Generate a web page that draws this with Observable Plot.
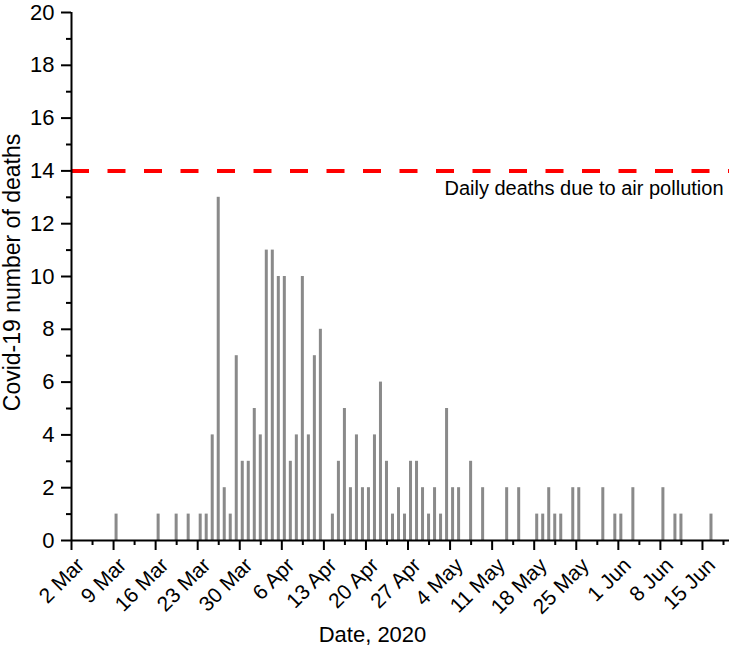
<!DOCTYPE html>
<html>
<head>
<meta charset="utf-8">
<script src="https://cdn.jsdelivr.net/npm/d3@7"></script>
<script src="https://cdn.jsdelivr.net/npm/@observablehq/plot@0.6"></script>
<style>
  html, body { margin: 0; padding: 0; background: #fff; }
  #chart svg { display: block; }
</style>
</head>
<body>
<div id="chart"></div>
<script>
// ---- Data ----
const dates = [
  "2020-03-09","2020-03-16","2020-03-19","2020-03-21","2020-03-23","2020-03-24","2020-03-25","2020-03-26",
  "2020-03-27","2020-03-28","2020-03-29","2020-03-30","2020-03-31","2020-04-01","2020-04-02","2020-04-03",
  "2020-04-04","2020-04-05","2020-04-06","2020-04-07","2020-04-08","2020-04-09","2020-04-10","2020-04-11",
  "2020-04-12","2020-04-14","2020-04-15","2020-04-16","2020-04-17","2020-04-18","2020-04-19","2020-04-20",
  "2020-04-21","2020-04-22","2020-04-23","2020-04-24","2020-04-25","2020-04-26","2020-04-27","2020-04-28",
  "2020-04-29","2020-04-30","2020-05-01","2020-05-02","2020-05-03","2020-05-04","2020-05-05","2020-05-07",
  "2020-05-09","2020-05-13","2020-05-15","2020-05-18","2020-05-19","2020-05-20","2020-05-21","2020-05-22",
  "2020-05-24","2020-05-25","2020-05-29","2020-05-31","2020-06-01","2020-06-03","2020-06-08","2020-06-10",
  "2020-06-11","2020-06-16"
];
const deaths = [
  1,1,1,1,1,1,4,13,
  2,1,7,3,3,5,4,11,
  11,10,10,3,4,10,4,7,
  8,1,3,5,2,4,2,2,
  4,6,3,1,2,1,3,3,
  2,1,2,1,5,2,2,3,
  2,2,2,1,1,2,1,1,
  2,2,2,1,1,2,2,1,
  1,1
];
const tickDates = ["2020-03-02","2020-03-09","2020-03-16","2020-03-23","2020-03-30","2020-04-06","2020-04-13",
  "2020-04-20","2020-04-27","2020-05-04","2020-05-11","2020-05-18","2020-05-25","2020-06-01","2020-06-08","2020-06-15"];
const tickLabels = ["2 Mar","9 Mar","16 Mar","23 Mar","30 Mar","6 Apr","13 Apr","20 Apr","27 Apr","4 May",
  "11 May","18 May","25 May","1 Jun","8 Jun","15 Jun"];
const yTicks = [0,2,4,6,8,10,12,14,16,18,20];
const yMinorTicks = [1,3,5,7,9,11,13,15,17,19];
const pollutionLevel = 14;
const pollutionLabel = "Daily deaths due to air pollution";
const xTitle = "Date, 2020";
const yTitle = "Covid-19 number of deaths";
const xStart = "2020-03-02";
const xEnd = "2020-06-19T12:00:00Z";

// ---- Build ----
const DAY = 864e5;
const bars = dates.map((d, i) => ({date: new Date(d), deaths: deaths[i]}));
const majors = tickDates.map(d => new Date(d));
const minors = majors.map(d => new Date(+d + 3.5 * DAY));
const font = "'Liberation Sans', Arial, Helvetica, sans-serif";

const chart = Plot.plot({
  width: 731,
  height: 647,
  marginLeft: 71,
  marginRight: 2,
  marginTop: 12,
  marginBottom: 107,
  style: {fontFamily: font, color: "#000", background: "#fff", overflow: "visible"},
  x: {type: "utc", domain: [new Date(xStart), new Date(xEnd)]},
  y: {domain: [0, 20]},
  marks: [
    Plot.rectY(bars, {
      x1: d => new Date(+d.date + 0.25 * DAY),
      x2: d => new Date(+d.date + 0.75 * DAY),
      y: "deaths",
      fill: "#8a8a8a",
      insetLeft: 0, insetRight: 0
    }),
    Plot.ruleY([pollutionLevel], {stroke: "#ff0000", strokeWidth: 4, strokeDasharray: "18,18.5"}),
    Plot.text([{y: pollutionLevel, label: pollutionLabel}], {
      y: "y", text: "label", frameAnchor: "right", textAnchor: "end", lineAnchor: "middle",
      dx: -6, dy: 18, fontSize: 20, fill: "#000"
    }),
    // axis lines
    Plot.ruleY([0], {strokeWidth: 2, stroke: "#000"}),
    Plot.ruleX([new Date(xStart)], {strokeWidth: 2, stroke: "#000"}),
    // y axis
    Plot.axisY({ticks: yTicks, tickSize: 10, tickPadding: 7, fontSize: 22, strokeWidth: 2, label: null}),
    Plot.axisY({ticks: yMinorTicks, tickSize: 5, tickFormat: () => "", strokeWidth: 2, label: null}),
    // x axis ticks
    Plot.axisX({ticks: majors, tickSize: 10, tickFormat: () => "", strokeWidth: 2, label: null}),
    Plot.axisX({ticks: minors, tickSize: 5, tickFormat: () => "", strokeWidth: 2, label: null}),
    // x tick labels (rotated)
    Plot.text(majors, {
      x: d => d, text: (d, i) => tickLabels[i],
      frameAnchor: "bottom", rotate: -45, textAnchor: "end", lineAnchor: "bottom",
      dx: 14, dy: 26, fontSize: 21, fill: "#000"
    }),
    // titles
    Plot.text([xTitle], {frameAnchor: "bottom", textAnchor: "middle", lineAnchor: "bottom", dx: -28, dy: 101, fontSize: 22, fill: "#000"}),
    Plot.text([yTitle], {frameAnchor: "left", rotate: -90, textAnchor: "middle", lineAnchor: "middle", dx: -59, dy: -4, fontSize: 23, fill: "#000"})
  ]
});
document.getElementById("chart").appendChild(chart);
</script>
</body>
</html>
